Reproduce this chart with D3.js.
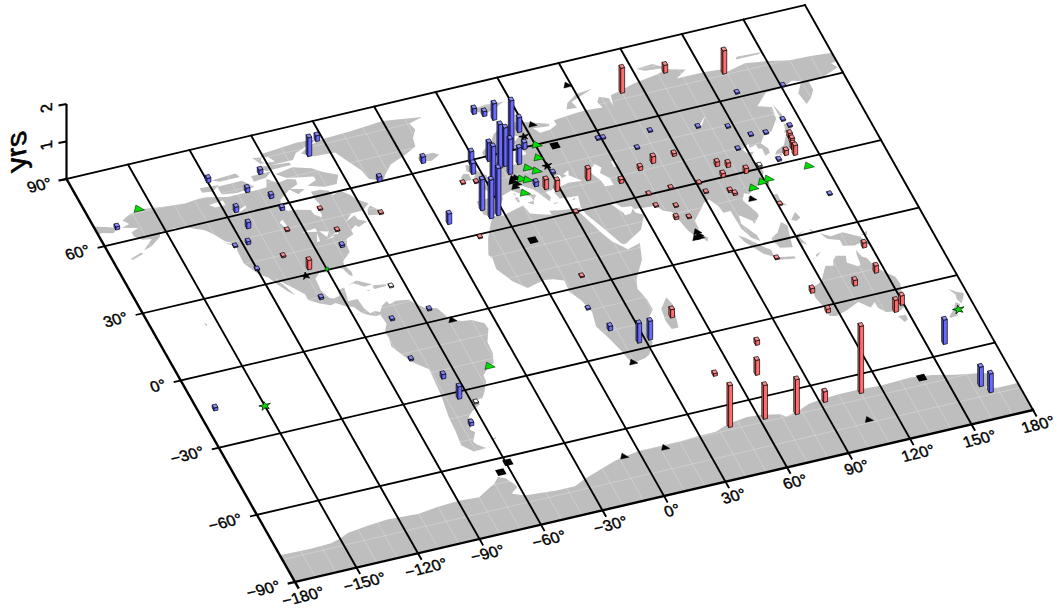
<!DOCTYPE html>
<html><head><meta charset="utf-8">
<style>html,body{margin:0;padding:0;background:#fff}svg{display:block}text{font-family:"Liberation Sans",Arial,sans-serif;fill:#000}</style>
<script src="https://cdn.jsdelivr.net/npm/d3@7/dist/d3.min.js"></script>
</head><body><svg id="c" width="1058" height="608"></svg>
<script>
// ---------- data ----------
const lonTicks=[-180,-150,-120,-90,-60,-30,0,30,60,90,120,150,180];
const latTicks=[-90,-60,-30,0,30,60,90];
const zTicks=[0,1,2];
const zTitle="yrs";
// [lon, lat, yrs]
const blueSites=[[-69.8,77.1,.5],[-62.7,82.3,.15],[-95.2,74.5,.12],[-119.6,76.1,.12],[-105.2,68.6,.12],[-96.4,64,.1],[-114.9,61.7,.15],[-94.6,58.3,.08],[-113.6,54.3,.16],[-117.5,48,.08],[-123.8,48,.03],[-77.8,38.2,.06],[-45.7,60.7,.12],[-120,36.9,.03],[-99.5,19.6,.05],[-170.3,66,.08],[-172.2,-14.4,.08],
[-55.7,5.2,.04],[-74.1,4.7,.04],[-75.7,-12.8,.04],[-66.3,-22.9,.12],[-64.3,-32.3,.33],[-65.7,-44,.09],
[11.4,78.4,.15],[15.3,76.6,.13],[18.6,74.2,.44],[18.9,61.1,1.3],[26.4,67.1,.39],[9.4,54.7,1.17],[12.1,55,1.03],[12.3,51.4,.94],[6.4,58.5,.5],[-2,58.9,.34],[-3.6,54.9,.29],[-.4,44.3,1.33],[18.6,54.5,.44],[24.5,59.9,.18],[-8.5,39.8,.82],[-6.6,35.8,1.03],[-2.8,36.3,1.26],[-26.1,37.4,.28],[-22.5,63.8,.17],[20.5,44.2,.12],[30.8,47.5,.04],
[58.5,56.7,.03],[60.9,56.6,.03],[82.8,55,.03],[73.1,49.5,.03],[104.4,52.2,.03],[117.3,49.4,.03],[125.2,44.1,.03],[132.2,43.5,.03],[116.2,39.8,.03],[142.7,47.1,.03],[144.2,44.1,.03],[131.2,31.7,.04],[144.8,13.6,.03],[129.5,62,.03],[151,60.5,.03],
[12.9,-9.1,.03],[17.3,-19.3,.12],[26.8,-26.8,.52],[32.3,-26.6,.5],[158.2,-55.4,.65],[163.5,-75.3,.52],[166.3,-78.6,.5]];
const redSites=[[-78.2,54.8,.03],[-97.5,49.5,.03],[-76,44.9,.03],[-53,47.6,.03],[-105.6,39.6,.04],[-97.4,32.5,.25],[-10.4,51.8,.03],[-4.5,51,.03],[-16.3,28.9,.03],[24.1,42.2,.26],[28.4,40.4,.29],[44.4,41.8,.31],[31.1,29.9,.03],
[76.5,42.5,.18],[69.2,40.9,.1],[87.3,43.4,.07],[57.9,37.6,.1],[141.5,39.8,.13],[141.2,37.6,.13],[140.2,35.1,.15],[139.6,32.6,.26],[135.7,33.4,.13],[103.3,35.4,.12],[107.8,34,.12],[114.1,30,.13],[103.2,30.6,.1],[91.2,30,.03],[77.9,30.7,.03],[66.9,30.3,.03],[92,25.8,.03],[102.6,24,.05],[104,22.4,.05],[67.1,25,.03],[75.7,23.1,.03],[72.8,18.3,.07],[78.6,17.5,.03],[120.9,14.2,.03],[106.4,-6.7,.03],[18.1,4.2,.03],[47.1,-19.9,.22],
[80.2,73,.67],[103.6,76.9,.21],[128.8,71.1,.62],[146.9,-10.1,.13],[145.9,-21.1,.19],[133.7,-24.2,.15],[113.5,-23.1,.12],[115.5,-32.3,.1],[144.9,-38.3,.32],[149.2,-36.1,.25],[77.1,-38.5,.12],[69.8,-50.3,.4],[51.4,-46.8,.07],[45.5,-68.3,1.11],[62.5,-68.3,.9],[77.4,-69.4,.93],[92.5,-67.2,.28],[110.2,-67,1.79]];
const greySites=[[-66.5,17.8,.03],[-58.2,-35.7,.03],[121.5,31.3,.03]];
const greenTriangles=[[-156.5,71.6],[30.3,60],[28,54.8],[20.9,51.8],[24,49.8],[15.6,48],[18,47.1],[13.5,42.2],[-43.8,-22.7],[142.3,26.6],[113.2,23.1],[118.6,24.6],[121.9,25.2]];
const greenStars=[[172.3,-43.7],[-150,-17.8]];
const greenDots=[[-89.9,30.4]];
const blackTriangles=[[58.1,80.5],[33.5,68.3],[-48.5,-1.2],[110.1,18.8],[78.4,10.9],[78.5,9.5],[76.5,8.6],[78.4,8.6],[19.1,-34.5],[-7.7,-70.7],[12.1,-71],[106.7,-78.7],[12.1,48.8],[13.6,48.9],[11,47.7],[12.6,46.4],[11,45.4]];
const blackStars=[[27.1,64.3],[30,50.7],[-100.6,29.7]];
const blackSquares=[[38.3,57.9],[5.8,22.8],[-59.1,-62.4],[-64.5,-65.6],[139.8,-67.1]];

// ---------- land outlines (lon, lat) ----------
const landAreas=[
// North America
[[-168,65.6],[-164,66.5],[-166,68.5],[-162,70],[-156.5,71.3],[-148,70.4],[-141,69.7],[-135,69.3],[-128,70],[-124,69.8],[-115,68],[-108,68],[-100,68],[-96,68.2],[-94,71.5],[-90,68.8],[-85,69.5],[-81.5,68.5],[-82,66.5],[-87,65],[-93,62],[-94.5,59],[-92.5,57],[-88,56.5],[-82.5,55.2],[-82,52.9],[-79.5,51.3],[-78.8,52.5],[-79,54.8],[-77,56],[-78,58.7],[-78,62.3],[-73.5,62.3],[-70,61],[-69.5,58.9],[-65,60],[-62,57.5],[-60,55],[-56,52.5],[-60,50.2],[-66,50],[-70,47.3],[-65,49],[-64.5,47],[-61,45.5],[-66,44],[-67,45],[-70,43.5],[-70,41.7],[-74,40.5],[-75.5,38],[-76,35],[-78,33.8],[-81,32],[-81.5,30.5],[-80,26.8],[-80.5,25.2],[-81.8,26],[-83,29],[-85,29.7],[-89,30.3],[-90,29.1],[-94,29.6],[-97.2,27.7],[-97.7,22.5],[-95.8,18.8],[-94,18.2],[-91,18.7],[-90.5,21],[-87,21.5],[-88,17.5],[-88.7,15.8],[-84,15.8],[-83.5,11.5],[-82,9],[-79.5,9.5],[-77.3,8.5],[-78,7.5],[-80,7.3],[-83,8.3],[-85.7,10],[-87.5,13],[-91,14],[-94.5,16.2],[-97,15.8],[-101.5,17.5],[-105.5,20],[-105.5,22.5],[-109,26],[-112.5,29.5],[-114.7,31.7],[-112,27.5],[-109.8,23],[-112,25],[-115,29],[-117.2,32.5],[-120.5,34.5],[-122.5,37.7],[-124.3,40.3],[-124,46],[-122.7,48.5],[-127,50.8],[-130,54.3],[-133,57],[-137,58.5],[-140,59.8],[-146,60.7],[-151,59.5],[-152,61],[-154,58.5],[-160,55.5],[-164,54.7],[-158,58.5],[-162,59],[-165,61],[-165,63],[-161,64]],
// Arctic Canada and north-east America islands
[[-80,73.7],[-72,71.5],[-68,69],[-62,66.5],[-65,63],[-71,63],[-78,65],[-73,66.5],[-73,68],[-85,70],[-89,72.5]],
[[-117,73],[-105,73],[-101,69.5],[-110,68.7],[-117,69.5]],[[-125,74],[-116,73.5],[-120,71.5],[-125,72]],
[[-90,76.5],[-78,76.5],[-75,79],[-62,82.5],[-72,83],[-90,81.8],[-92,79]],[[-96,77],[-80,75.8],[-80,74.7],[-92,74.6]],
[[-100,74],[-90,74],[-94,72],[-100,71.5]],[[-118,76],[-106,76.5],[-105,74.7],[-115,74.7]],[[-95,81],[-88,80],[-86,77.5],[-93,78]],
[[-59,47.8],[-53,46.8],[-53,48.8],[-56,51.5],[-58,50]],[[-87,65.5],[-80,64],[-84,62.5]],
[[-85,22],[-80,23.2],[-74.2,20.2],[-78,19.9],[-82,22.4]],[[-74.4,19.7],[-68.5,19],[-68.5,18.2],[-74.4,18.2]],[[-78.3,18.4],[-76.3,18.2],[-77,17.8]],[[-128,50.7],[-123.5,48.4],[-125.5,48.8]],
[[-156,20.7],[-154.9,19.6],[-155.7,19]],[[-172,52.5],[-166,54],[-165,53.5],[-171,52]],
// Greenland, Iceland
[[-73,78.2],[-68,76],[-58,75.5],[-54,70],[-51,66],[-50,62],[-44,60],[-42,62],[-37,65.7],[-28,68.3],[-22,70.5],[-21,74],[-18,77],[-19,80],[-12,81.5],[-30,83.5],[-45,82.5],[-60,82],[-68,80.5]],
[[-24,65.5],[-22,66.4],[-16,66.4],[-13.7,65],[-18.5,63.4],[-22.5,63.9]],
// South America
[[-77.5,8.5],[-75,11],[-72,12.2],[-71.5,10.8],[-68,11.6],[-62,10.7],[-60,8.3],[-57,6],[-52,4.8],[-50,1],[-50,-.5],[-44.5,-2.5],[-40,-3],[-35.2,-5.5],[-34.9,-8],[-38.5,-13],[-39,-18],[-41,-22],[-44.5,-23.2],[-48.5,-26],[-48.7,-28.5],[-52,-32.5],[-54.5,-34.8],[-58,-34.5],[-57,-37],[-62,-39],[-65,-41],[-63.7,-42.5],[-67.5,-46],[-65.8,-47.5],[-69,-51],[-68.3,-52.4],[-65,-54.8],[-71,-55],[-75,-51.5],[-74,-45],[-73.5,-39],[-71.5,-30],[-70.3,-18.5],[-76,-14],[-81,-6],[-80,-2.5],[-80.5,0],[-77.5,3.5],[-78,7]],
[[-61,-51.5],[-58,-51.5],[-59,-52.2]],
// Africa, Madagascar
[[-6,35.8],[-1,35.2],[10,37.3],[11,33.5],[15,32.3],[20,31],[20,32.8],[25,32],[32,31.3],[34.3,31.2],[32.5,29.9],[35,24],[37.3,19],[39.5,15],[43.3,11.5],[44.5,10.4],[51.2,11.8],[48,5],[41,-2],[39,-6],[40.5,-11],[40.6,-15.5],[35,-20],[35.5,-24],[32.8,-26],[32.5,-28.5],[28,-33],[25.5,-34],[20,-34.8],[18.3,-34],[17,-29],[14.5,-22.5],[12,-17],[13.8,-11],[12,-5.5],[9,-1],[9.5,4],[5,5.5],[1,6],[-4,5.2],[-8,4.4],[-13,8.5],[-17,14.7],[-16,19.5],[-17,21],[-13,27.7],[-9.8,31.5]],
[[49.3,-12],[50.4,-15.5],[47.3,-25],[44,-25],[43.3,-21.5],[44.3,-16.2]],
// Eurasia
[[-9,37],[-9.4,38.8],[-9,43.2],[-2,43.4],[-1.2,46],[-4.7,48.3],[-1.5,48.7],[1.5,50.7],[4,52],[8,53.7],[8.5,56.5],[10.7,57.7],[10,54.7],[14,54],[19,54.4],[21,57],[24,57.2],[23.5,59.2],[30,59.9],[25,60.2],[21.5,61],[21.5,63],[25.3,65],[22,65.8],[17.5,62.5],[17.5,60.7],[18.5,59.5],[16.5,56.5],[14.3,55.5],[12.7,56],[11,59],[7,58],[5,60],[5.3,62],[12,65.5],[14.5,68],[19,70],[25.5,71],[31,70],[41,67],[40.5,66],[33,66.7],[35,64.3],[40,64.6],[44,66],[44,68],[54,68.7],[60,69],[68,68.5],[67,71],[69,73],[73,71.5],[73,68],[74.5,72.5],[80,73.5],[87,75],[100,76.5],[104.3,77.7],[113,75.7],[107,73],[120,73],[128,72.5],[130,71],[140,72.7],[150,71.5],[160,69.7],[170,69.5],[180,68.8],[180,65],[177,64.7],[179,62.5],[170,60],[163,59.5],[163,56],[160,53],[156.7,51],[155.7,56],[160,60.5],[156,61.5],[150,59.5],[142,59.3],[135,54.7],[141,53],[140,48],[135,43.5],[130.5,42.5],[127.5,39.8],[129.4,37],[129,35.2],[126.4,34.5],[126.7,37.5],[125,38],[125,39.7],[121.5,39],[122,40.7],[118,39],[119,37.3],[122.5,37.2],[119.3,35],[122,31],[121.5,28],[118,24.5],[113.5,22.3],[110,21],[108,21.7],[105.8,19],[109,13],[109,11.5],[105,8.7],[105,10],[100.5,13.5],[99.5,10],[103.5,4],[103.5,1.4],[100.5,3.5],[98.3,8],[98,16],[94.5,16],[94,19],[91.5,22.5],[88.5,21.7],[86.5,20],[80.3,15.5],[80,12],[77.5,8],[75,12],[73,19],[72.5,21],[69,22.3],[67,25],[62,25.2],[57,25.7],[56.5,27],[52,27.5],[50,30],[48,30],[50,27],[51.5,25],[51.5,24],[54.5,24.2],[56.4,26],[56.7,24],[59.8,22.5],[55,17],[52,15.7],[45,12.8],[43.2,13],[39,21],[35,28],[34.5,31.5],[36,36],[32,36.2],[27.5,36.7],[26.5,39.5],[29,41],[35,42],[41.5,41.5],[37,45],[38,47],[35,46],[36,45],[33.5,44.5],[33,46],[30,46],[28,43],[28,41.5],[26,40.8],[23,40.5],[24,38],[22.5,36.5],[19.5,41],[18.5,42.5],[13.7,45.5],[12.3,45],[14,42],[18.3,40.2],[16.5,39],[15.7,38],[15.5,40],[10.5,43],[8.7,44.3],[3.2,43],[3,41.7],[0,39.5],[-0.5,38],[-2,36.8],[-5.5,36.1]],
[[-180,68.8],[-175,67.5],[-170,66],[-173,64.3],[-178,65.5],[-180,65]],
// European and Arctic islands
[[-5.5,50],[1.3,51.2],[1.7,52.7],[0,53.5],[-2,56],[-2,57.6],[-5,58.6],[-6,56],[-3,54],[-5,52]],[[-10,52],[-6,52.2],[-5.7,54.7],[-8,55.2],[-10,54]],
[[12.5,38],[15.6,38.2],[15,36.7]],[[8.2,41],[9.7,41],[9.5,39],[8.5,39]],[[8.6,42.9],[9.5,42.9],[9.3,41.5]],[[23.6,35.5],[26.3,35.3],[24,35]],[[32.4,35],[34.5,35.6],[33.5,34.7]],
[[11,79.5],[16,76.8],[21,78],[27,80],[18,80.5]],[[52,71],[57,70.7],[56,73.5],[68,76.8],[60,76.2],[54,73.5]],[[95,79],[105,78.2],[100,81],[92,80.5]],[[137,75],[148,75],[150,75.5],[138,76]],
// East and South-East Asia
[[142,54],[143.5,49],[143,46],[142,47],[142,52]],[[130.9,34],[135,33.6],[140,35],[141.5,38],[141.4,41.4],[140,40.5],[137,37],[132.5,35.5]],[[140,41.7],[143,42],[145.3,43.5],[142,45.5],[141.5,43.5]],[[130,33.5],[132,33],[131,31],[130,32]],[[132.5,34],[134.5,34],[133.5,33]],
[[121,25],[122,25],[120.8,22],[120.2,23]],[[109,20],[111,20],[110,18.3],[108.7,19]],[[80,9.7],[81.8,7.5],[80.5,6],[79.8,7.5]],
[[120.5,18.5],[122.3,18.4],[122,15],[124,13],[120.5,14]],[[122,7],[125.5,9.7],[126.5,7],[124,6]],[[109,1.5],[113,3.2],[117,7],[119,5],[117.5,1],[116,-4],[110.5,-3],[109,0]],
[[95.3,5.6],[98,4],[104,-1.5],[106,-3],[105.7,-6],[102,-4],[96.5,2.5]],[[105.2,-6.7],[108.5,-6.7],[114.5,-7.7],[114.5,-8.7],[106,-7.5]],[[119.5,-5.5],[120,.5],[125,1.5],[121,0],[123,-4.5],[121,-3],[120.5,-5.5]],
[[131,-1],[135,-3.2],[141,-2.7],[147.5,-6],[150.5,-10.5],[146,-8.5],[143,-9],[138,-8],[138,-5.5],[133,-4]],[[148.5,-5.5],[152,-4.2],[151,-6]],[[124,-9],[127,-8.4],[124,-10]],[[127.5,2],[128.5,1],[128,-.8]],
// Oceania
[[114,-22],[113.5,-26],[115,-31],[115,-34.3],[118,-35],[123.5,-33.9],[131,-31.5],[135,-34.8],[138,-33],[138,-35.6],[140.5,-38],[144,-38.5],[146.4,-39],[150,-37.5],[151.5,-33],[153.5,-28],[153,-25],[149.5,-22],[146.5,-19],[145.3,-15],[143.5,-14],[142.5,-10.8],[141.7,-13],[141,-17],[139.5,-17.5],[135.5,-15],[136.8,-12.2],[132.5,-11.3],[130,-13],[129,-15],[125.5,-14.3],[122,-18],[120,-20]],
[[144.7,-40.7],[148.3,-40.9],[148,-43],[146,-43.6]],[[172.7,-34.5],[175.5,-36.5],[178.5,-37.7],[176.8,-40],[175,-41.5],[174,-39.5],[174.7,-37.5]],[[172.7,-40.6],[174.3,-41.7],[171,-45],[170.5,-46],[167,-46.2],[166.5,-45.7],[170.5,-43]],
// Antarctica
[[-180,-78],[-165,-78.3],[-155,-78],[-150,-77],[-145,-75.5],[-135,-74.5],[-125,-73.8],[-110,-74.5],[-100,-73.5],[-90,-73],[-80,-73.5],[-75,-71.5],[-70,-69.5],[-67,-67.3],[-64,-68.5],[-62,-71],[-61,-73],[-65,-75],[-60,-77],[-45,-78],[-36,-78],[-30,-76],[-20,-73.5],[-12,-71.5],[0,-70],[10,-70],[20,-70],[30,-69.5],[38,-69.5],[45,-67.5],[55,-66.5],[62,-67],[70,-68.5],[72,-70],[78,-69],[85,-67],[90,-66.5],[100,-66],[110,-66],[120,-66.5],[135,-66],[145,-67],[155,-69],[165,-70.5],[170,-71.5],[170,-74],[165,-77],[170,-78],[180,-78],[180,-90],[-180,-90]]
];
const lakes=[[[47,45],[51,47],[53,45],[51,43],[54,40],[54,37],[50,37.3],[49.5,40],[47.5,43]],[[58.5,46.5],[61,46.5],[60,44],[58.5,44]],[[104,51.5],[109,55],[110,55.5],[106,52]],
[[-92,47],[-85,47.5],[-85,46],[-88,46.5]],[[-87.5,42],[-85.5,45.5],[-86,42]],[[-84,46],[-80,45],[-82,43]],[[-83,42],[-79,43],[-79,42.5]],[[-79.5,43.5],[-76,44],[-76.5,43.3]],[[-125,66.5],[-118,67],[-118,65],[-123,65]],[[-117,61],[-109,63],[-110,62],[-115,60.5]],[[-99,53],[-97,54],[-96.5,50.5],[-98,51]]];

// ---------- projection: flat map seen obliquely ----------
const mapU=d3.scaleLinear().domain([-180,180]).range([0,1]);
const mapV=d3.scaleLinear().domain([90,-90]).range([0,1]);
const corners={tl:[66.5,179],tr:[805,5],bl:[295,582],br:[1033,410]};
function proj(lon,lat){
  const u=mapU(lon),v=mapV(lat);
  const f=i=>(1-v)*((1-u)*corners.tl[i]+u*corners.tr[i])+v*((1-u)*corners.bl[i]+u*corners.br[i]);
  return [f(0),f(1)];
}
const zScale=d3.scaleLinear().domain([0,2]).range([0,75]);
const svg=d3.select("#c");
const line=d3.line();
const ring=pts=>line(pts.map(p=>proj(p[0],p[1])))+"Z";

// land
const landPath=landAreas.map(ring).join("");
svg.append("clipPath").attr("id","land").append("path").attr("d",landPath);
svg.append("path").attr("d",landPath).attr("fill","#bebebe");
const fine=svg.append("g").attr("clip-path","url(#land)").attr("stroke","#fff").attr("stroke-opacity",.32).attr("stroke-width",.8);
d3.range(-180,181,10).forEach(l=>fine.append("path").attr("d",line([proj(l,-90),proj(l,90)])));
d3.range(-90,91,10).forEach(l=>fine.append("path").attr("d",line([proj(-180,l),proj(180,l)])));
svg.append("path").attr("d",lakes.map(ring).join("")).attr("fill","#fff");

// graticule and frame
const grid=svg.append("g").attr("stroke","#000").attr("fill","none").attr("stroke-linecap","square");
lonTicks.forEach(l=>grid.append("path").attr("d",line([proj(l,-92.5),proj(l,90)])).attr("stroke-width",l===-180?2.4:1.9));
latTicks.forEach(l=>grid.append("path").attr("d",line([proj(-183,l),proj(180,l)])).attr("stroke-width",l===-90?2.4:1.8));

// axis labels
const sheared="matrix(1.12,-0.27,0.4,1.04,0,0)";
const fmt=v=>(v<0?"\u2212"+(-v):v)+"\u00B0";
const labels=svg.append("g").attr("font-size",14).attr("stroke","#000").attr("stroke-width",.35);
latTicks.forEach(l=>{const p=proj(-186.5,l);
  labels.append("text").attr("transform",`translate(${p[0]-2},${p[1]}) ${sheared}`).attr("text-anchor","end").attr("dy","0.36em").text(fmt(l));});
lonTicks.forEach(l=>{const p=proj(l,-96.3);
  labels.append("text").attr("transform",`translate(${Math.min(p[0],1038)},${p[1]}) ${sheared}`).attr("text-anchor","middle").attr("dy","0.36em").text(fmt(l));});

// vertical axis
const z0=proj(-180,90);
const zAxis=svg.append("g").attr("stroke","#000").attr("fill","none");
zAxis.append("path").attr("stroke-width",2.2).attr("d",line([[z0[0],z0[1]],[z0[0],z0[1]-zScale(2)]]));
zTicks.forEach(t=>{const y=z0[1]-zScale(t);zAxis.append("path").attr("stroke-width",1.8).attr("d",line([[z0[0]-8,y+1.5],[z0[0],y]]));});
const zMat=(sx,sy)=>`matrix(0,${-sx},${sy*.97},${-sy*.23},0,0)`;
zTicks.filter(t=>t>0).forEach(t=>{const y=z0[1]-zScale(t);
  svg.append("text").attr("transform",`translate(${z0[0]-20},${y+4}) ${zMat(1.14,1.2)}`).attr("text-anchor","middle").attr("dy","0.36em").attr("font-size",14).attr("stroke","#000").attr("stroke-width",.35).text(t);});
svg.append("text").attr("transform",`translate(${z0[0]-46},${z0[1]-28}) ${zMat(1.2,1.15)}`).attr("text-anchor","middle").attr("dy","0.2em").attr("font-size",25).attr("stroke","#000").attr("stroke-width",.55).text(zTitle);

// symbols and bars, painted back to front
const A=.95,B=.7;
const items=[];
const palette={blue:["#6a6aff","#5252d0","#8c8cff"],red:["#ff6d6d","#d85a5a","#ff9090"],grey:["#f0f0f0","#b0b0b0","#ffffff"]};
const addBars=(arr,c)=>arr.forEach(d=>items.push({kind:"bar",d,c}));
addBars(blueSites,"blue");addBars(redSites,"red");addBars(greySites,"grey");
greenTriangles.forEach(d=>items.push({kind:"tri",d,fill:"#00e000",a:2.5,up:1.7,dn:1}));
blackTriangles.forEach(d=>items.push({kind:"tri",d,fill:"#000",a:2,up:1.4,dn:.8}));
blackSquares.forEach(d=>items.push({kind:"sq",d}));
blackStars.forEach(d=>items.push({kind:"star",d,fill:"#000",size:26}));
greenStars.forEach(d=>items.push({kind:"star",d,fill:"#00e000",size:36}));
greenDots.forEach(d=>items.push({kind:"dot",d}));
items.forEach(i=>i.y=proj(i.d[0],i.d[1])[1]);
items.sort((a,b)=>a.y-b.y);
const marks=svg.append("g").attr("stroke-linejoin","round");
items.forEach(it=>{
  const [lon,lat]=it.d;
  if(it.kind==="bar"){
    const h=zScale(it.d[2]),[front,side,top]=palette[it.c];
    const sw=proj(lon-A,lat-B),se=proj(lon+A,lat-B),ne=proj(lon+A,lat+B),nw=proj(lon-A,lat+B);
    const up=p=>[p[0],p[1]-h];
    const g=marks.append("g").attr("stroke","#000").attr("stroke-width",.7);
    g.append("path").attr("d",line([nw,sw,up(sw),up(nw)])+"Z").attr("fill",side);
    g.append("path").attr("d",line([sw,se,up(se),up(sw)])+"Z").attr("fill",front);
    g.append("path").attr("d",line([up(sw),up(se),up(ne),up(nw)])+"Z").attr("fill",top);
  } else if(it.kind==="tri"){
    marks.append("path").attr("d",line([proj(lon-it.a,lat-it.dn),proj(lon+it.a,lat-it.dn),proj(lon,lat+it.up)])+"Z").attr("fill",it.fill).attr("stroke","#000").attr("stroke-width",.5);
  } else if(it.kind==="sq"){
    marks.append("path").attr("d",line([proj(lon-2,lat-1.3),proj(lon+2,lat-1.3),proj(lon+2,lat+1.3),proj(lon-2,lat+1.3)])+"Z").attr("fill","#000");
  } else if(it.kind==="star"){
    const p=proj(lon,lat);
    marks.append("path").attr("transform",`translate(${p[0]},${p[1]}) rotate(-13) scale(1.1,.8)`).attr("d",d3.symbol(d3.symbolStar,it.size)()).attr("fill",it.fill).attr("stroke","#000").attr("stroke-width",.7);
  } else {
    const p=proj(lon,lat);
    marks.append("circle").attr("cx",p[0]).attr("cy",p[1]).attr("r",2).attr("fill","#00c000").attr("stroke","#000").attr("stroke-width",.4);
  }
});
</script></body></html>
